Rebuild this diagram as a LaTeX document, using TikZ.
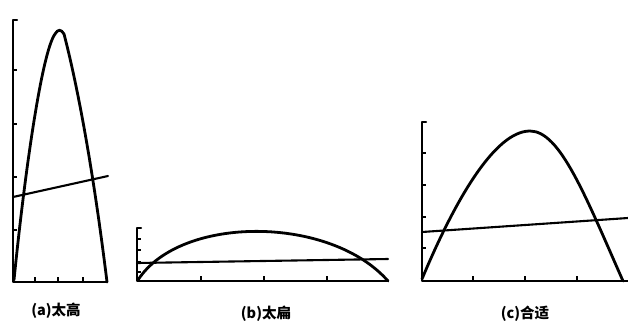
\documentclass[tikz,border=0pt]{standalone}
\usepackage{fontspec}
\newfontfamily\cjk{Noto Sans CJK SC}
\begin{document}
\begin{tikzpicture}[x=1pt,y=-1pt,
  axisline/.style={line width=2.2pt,line cap=round,line join=round},
  curveline/.style={line width=2.8pt,line cap=round,line join=round},
  refline/.style={line width=2.1pt,line cap=round},
  tickmark/.style={line width=1.4pt},
  caption/.style={font=\cjk\bfseries\fontsize{14.5}{16}\selectfont, inner sep=0pt}]
\useasboundingbox[fill=white] (0,0) rectangle (628,327);

% ---------- (a) ----------
\draw[axisline] (17,20) -- (13,20) -- (13,282) -- (107,282);
\foreach \yy in {70,124,177,230} \draw[tickmark] (13,\yy) -- (17,\yy);
\foreach \xx in {35,58,83} \draw[tickmark] (\xx,282) -- (\xx,277);
\draw[curveline] (14,280) .. controls (25,170) and (42,52) .. (55,34)
                 .. controls (58,29) and (61,29) .. (64,34)
                 .. controls (76,80) and (92,160) .. (107,282);
\draw[refline] (13,197) -- (108,176);
\node[caption] (la) at (56,311) {(a)太高};

% ---------- (b) ----------
\draw[axisline] (141,228) -- (137,228) -- (137,281) -- (388,281);
\foreach \yy in {239,250,262,272} \draw[tickmark] (137,\yy) -- (141,\yy);
\foreach \xx in {201,264,327} \draw[tickmark] (\xx,281) -- (\xx,276);
\draw[curveline] (138,280) .. controls (180,215) and (330,215) .. (388,281);
\draw[refline] (137,263) -- (388,259);
\node[caption] (lb) at (266,314) {(b)太扁};

% ---------- (c) ----------
\draw[axisline] (426,122) -- (422,122) -- (422,281) -- (628,281);
\foreach \yy in {153,185,217,248} \draw[tickmark] (422,\yy) -- (426,\yy);
\foreach \xx in {473,525,577} \draw[tickmark] (\xx,281) -- (\xx,276);
\draw[curveline] (422,279) .. controls (455,200) and (495,131) .. (530,131)
                 .. controls (560,131) and (585,195) .. (623,281);
\draw[refline] (422,232) -- (628,218);
\node[caption] (lc) at (525,314) {(c)合适};
\end{tikzpicture}
\end{document}
